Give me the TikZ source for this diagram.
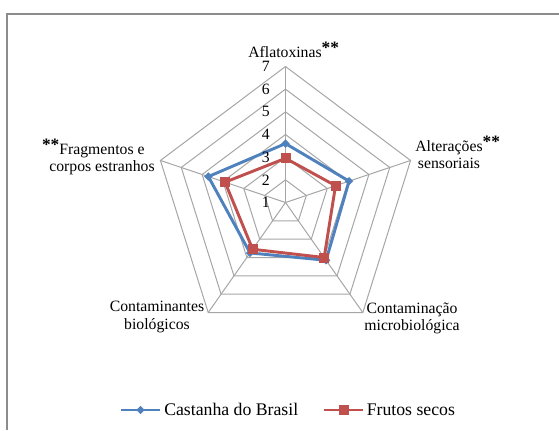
\documentclass[tikz,border=0pt]{standalone}
\usepackage{fontspec}
\setmainfont{Liberation Serif}
\usepackage{xcolor}
\usetikzlibrary{shapes.geometric}

\definecolor{castblue}{HTML}{4F81BD}
\definecolor{frutred}{HTML}{C0504D}
\definecolor{gridgray}{HTML}{A6A6A6}
\definecolor{framegray}{HTML}{8C8C8C}

\newcommand{\twostar}{\raisebox{3pt}{\fontsize{13}{13}\selectfont\bfseries **}}

\begin{document}
\begin{tikzpicture}[x=0.75pt, y=0.75pt,
			gridline/.style={draw=gridgray, line width=0.75pt},
			frameline/.style={draw=framegray, line width=1.5pt},
			blueline/.style={draw=castblue, line width=2.2pt, line join=round},
			redline/.style={draw=frutred, line width=2.2pt, line join=round},
			bluemark/.style={diamond, fill=castblue, minimum size=6.5pt, inner sep=0pt},
			redmark/.style={rectangle, fill=frutred, minimum size=7.5pt, inner sep=0pt},
			axlabel/.style={align=center, anchor=base, inner sep=0pt, font=\fontsize{11.8}{13}\selectfont},
			ringnum/.style={anchor=east, inner sep=0pt, font=\fontsize{11.8}{13}\selectfont},
			legtext/.style={anchor=base west, inner sep=0pt, font=\fontsize{13.3}{15}\selectfont}
		]
		\useasboundingbox (0,0) rectangle (559,430);
		\draw[frameline] (7,0) -- (7,416) -- (559,416);

		% radar grid
		\begin{scope}[shift={(285.5,227.5)}, x=16.44pt, y=17pt]
			\draw[gridline] (90:1) -- (18:1) -- (-54:1) -- (-126:1) -- (162:1) -- cycle;
			\draw[gridline] (90:2) -- (18:2) -- (-54:2) -- (-126:2) -- (162:2) -- cycle;
			\draw[gridline] (90:3) -- (18:3) -- (-54:3) -- (-126:3) -- (162:3) -- cycle;
			\draw[gridline] (90:4) -- (18:4) -- (-54:4) -- (-126:4) -- (162:4) -- cycle;
			\draw[gridline] (90:5) -- (18:5) -- (-54:5) -- (-126:5) -- (162:5) -- cycle;
			\draw[gridline] (90:6) -- (18:6) -- (-54:6) -- (-126:6) -- (162:6) -- cycle;

			\coordinate (ctr) at (0,0);
			\coordinate (afl) at (90:6);
			\coordinate (alt) at (18:6);
			\coordinate (micro) at (-54:6);
			\coordinate (bio) at (-126:6);
			\coordinate (frag) at (162:6);
			\draw[gridline] (ctr) -- (afl);
			\draw[gridline] (ctr) -- (alt);
			\draw[gridline] (ctr) -- (micro);
			\draw[gridline] (ctr) -- (bio);
			\draw[gridline] (ctr) -- (frag);

			% Castanha do Brasil
			\coordinate (b1) at (90:2.6);
			\coordinate (b2) at (18:3.05);
			\coordinate (b3) at (-54:3.15);
			\coordinate (b4) at (-126:2.75);
			\coordinate (b5) at (162:3.7);
			\draw[blueline] (b1) -- (b2) -- (b3) -- (b4) -- (b5) -- cycle;
			\node[bluemark] (b1m) at (b1) {};
			\node[bluemark] (b2m) at (b2) {};
			\node[bluemark] (b3m) at (b3) {};
			\node[bluemark] (b4m) at (b4) {};
			\node[bluemark] (b5m) at (b5) {};

			% Frutos secos
			\coordinate (r1) at (90:1.95);
			\coordinate (r2) at (18:2.4);
			\coordinate (r3) at (-54:3.0);
			\coordinate (r4) at (-126:2.55);
			\coordinate (r5) at (162:2.9);
			\draw[redline] (r1) -- (r2) -- (r3) -- (r4) -- (r5) -- cycle;
			\node[redmark] (r1m) at (r1) {};
			\node[redmark] (r2m) at (r2) {};
			\node[redmark] (r3m) at (r3) {};
			\node[redmark] (r4m) at (r4) {};
			\node[redmark] (r5m) at (r5) {};
		\end{scope}

		\node[ringnum] (n1) at (270,227.5) {1};
		\node[ringnum] (n2) at (270,250.2) {2};
		\node[ringnum] (n3) at (270,272.8) {3};
		\node[ringnum] (n4) at (270,295.5) {4};
		\node[ringnum] (n5) at (270,318.2) {5};
		\node[ringnum] (n6) at (270,340.8) {6};
		\node[ringnum] (n7) at (270,363.5) {7};

		% axis labels (base = last line)
		\node[axlabel] (aflLabel) at (285,372.7) {Aflatoxinas\rlap{\twostar}};
		\node[axlabel] (altLabel) at (449,261.5) {Altera\c{c}\~oes\rlap{\twostar}\\sensoriais};
		\node[axlabel] (microLabel) at (412,99.5) {Contamina\c{c}\~ao\\microbiol\'ogica};
		\node[axlabel] (bioLabel) at (157,101) {Contaminantes\\biol\'ogicos};
		\node[axlabel] (fragLabel) at (102,258.5) {\llap{\twostar}Fragmentos e\\corpos estranhos};

		% legend
		\coordinate (legA1) at (121,20);
		\coordinate (legA2) at (160,20);
		\draw[blueline] (legA1) -- (legA2);
		\node[bluemark] (legAm) at (140.5,20) {};
		\node[legtext] (legA) at (164,15) {Castanha do Brasil};

		\coordinate (legB1) at (324,20);
		\coordinate (legB2) at (363,20);
		\draw[redline] (legB1) -- (legB2);
		\node[redmark] (legBm) at (343.5,20) {};
		\node[legtext] (legB) at (366.5,15) {Frutos secos};
	\end{tikzpicture}
\end{document}
